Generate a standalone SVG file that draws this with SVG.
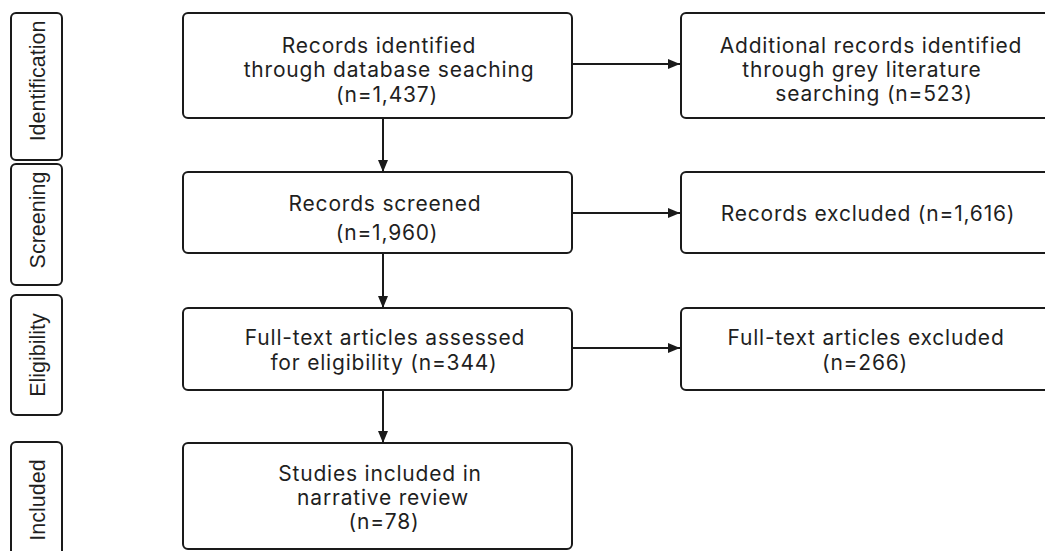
<svg xmlns="http://www.w3.org/2000/svg" width="1045" height="551" viewBox="0 0 1045 551">
<defs>
<style>
.box{fill:#fff;stroke:#1a1a1a;stroke-width:2}
.t{font-family:Inter,"Liberation Sans",sans-serif;font-size:21px;letter-spacing:0.8px;fill:#1f1f1f;text-anchor:middle;dominant-baseline:central}
.lbl{font-family:"Liberation Sans",Arial,sans-serif;font-size:21.5px;fill:#1f1f1f;text-anchor:middle;dominant-baseline:central}
.c{stroke:#1a1a1a;stroke-width:2;fill:none}
</style>
<marker id="ah" viewBox="0 0 12 10" refX="12" refY="5" markerWidth="12" markerHeight="10" markerUnits="userSpaceOnUse" orient="auto">
<path d="M0,0 L12,5 L0,10 Z" fill="#1a1a1a"/>
</marker>
</defs>
<rect width="1045" height="551" fill="#fff"/>
<g id="stage-identification"><rect class="box" x="11" y="13" width="51" height="147" rx="5"/><text class="lbl" transform="translate(38,81) rotate(-90)">Identification</text></g>
<g id="stage-screening"><rect class="box" x="11" y="164" width="51" height="121" rx="5"/><text class="lbl" transform="translate(38,220) rotate(-90)">Screening</text></g>
<g id="stage-eligibility"><rect class="box" x="11" y="295" width="51" height="120" rx="5"/><text class="lbl" transform="translate(38,355) rotate(-90)">Eligibility</text></g>
<g id="stage-included"><rect class="box" x="11" y="442" width="51" height="125" rx="5"/><text class="lbl" transform="translate(38,500) rotate(-90)">Included</text></g>

<g id="connectors">
<line class="c" x1="572" y1="64" x2="680" y2="64" marker-end="url(#ah)"/>
<line class="c" x1="572" y1="213" x2="680" y2="213" marker-end="url(#ah)"/>
<line class="c" x1="572" y1="348" x2="680" y2="348" marker-end="url(#ah)"/>
<line class="c" x1="383" y1="118" x2="383" y2="172" marker-end="url(#ah)"/>
<line class="c" x1="383" y1="253" x2="383" y2="308" marker-end="url(#ah)"/>
<line class="c" x1="383" y1="390" x2="383" y2="443" marker-end="url(#ah)"/>
</g>

<g id="n-identified"><rect class="box" x="183" y="13" width="389" height="105" rx="5"/>
<text class="t" x="379" y="45">Records identified</text>
<text class="t" x="389" y="69">through database seaching</text>
<text class="t" x="387" y="94">(n=1,437)</text></g>
<g id="n-additional"><rect class="box" x="681" y="13" width="390" height="105" rx="5"/>
<text class="t" x="871" y="45">Additional records identified</text>
<text class="t" x="862" y="69">through grey literature</text>
<text class="t" x="874" y="93">searching (n=523)</text></g>
<g id="n-screened"><rect class="box" x="183" y="172" width="389" height="81" rx="5"/>
<text class="t" x="385" y="203">Records screened</text>
<text class="t" x="387" y="232">(n=1,960)</text></g>
<g id="n-excluded"><rect class="box" x="681" y="172" width="390" height="81" rx="5"/>
<text class="t" x="868" y="213">Records excluded (n=1,616)</text></g>
<g id="n-fulltext"><rect class="box" x="183" y="308" width="389" height="82" rx="5"/>
<text class="t" x="385" y="337">Full-text articles assessed</text>
<text class="t" x="384" y="362">for eligibility (n=344)</text></g>
<g id="n-ft-excluded"><rect class="box" x="681" y="308" width="390" height="82" rx="5"/>
<text class="t" x="866" y="337">Full-text articles excluded</text>
<text class="t" x="865" y="362">(n=266)</text></g>
<g id="n-included"><rect class="box" x="183" y="443" width="389" height="106" rx="5"/>
<text class="t" x="380" y="473">Studies included in</text>
<text class="t" x="383" y="497">narrative review</text>
<text class="t" x="384" y="521">(n=78)</text></g>
</svg>
